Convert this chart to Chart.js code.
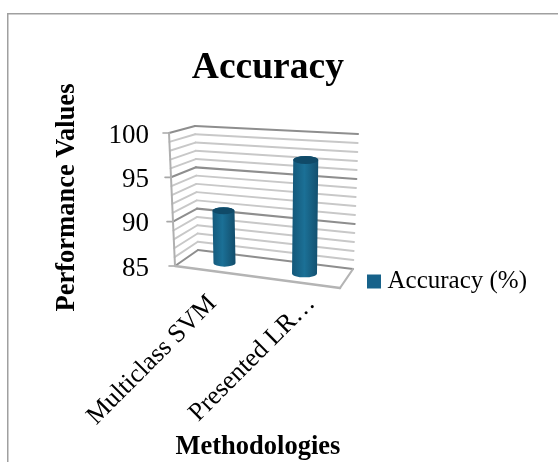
<!DOCTYPE html>
<html>
<head>
<meta charset="utf-8">
<style>html,body{margin:0;padding:0;background:#fff}#w{width:558px;height:462px}</style>
<script src="https://cdn.jsdelivr.net/npm/chart.js@4"></script>
</head>
<body>
<div id="w"><canvas id="c" width="558" height="462"></canvas></div>
<script>
const categories = ["Multiclass SVM", "Presented LR\u2026"];
const seriesName = "Accuracy (%)";
const accuracy = [91, 97.5];
const yMin = 85, yMax = 100, yMajorStep = 5, yMinorStep = 1;
const chartTitle = "Accuracy";
const xTitle = "Methodologies";
const yTitle = "Performance Values";

const serif = '"Liberation Serif","Times New Roman",serif';
const barColor = '#17628a';

// Perspective box the flat plot rectangle is projected on to
const box = {
  back:  {tl:[195,126], tr:[358,134], bl:[198,250], br:[353,269]},
  front: {tl:[169,133], tr:[342,146], bl:[175,266], br:[340,288]}
};
const lerp = (a,b,t)=>a+(b-a)*t;
function project(xf, yf, d){
  const f=(k)=>{
    const q=(c)=>lerp(lerp(c.tl[k],c.tr[k],xf),lerp(c.bl[k],c.br[k],xf),yf);
    return lerp(q(box.back),q(box.front),d);
  };
  return [f(0),f(1)];
}
function line(ctx,a,b,color,w){
  ctx.beginPath();ctx.moveTo(a[0],a[1]);ctx.lineTo(b[0],b[1]);
  ctx.strokeStyle=color;ctx.lineWidth=w;ctx.stroke();
}

const box3d = {
  id:'box3d',
  afterLayout(chart){
    const lg=chart.legend;
    lg.left=367; lg.right=558; lg.top=263; lg.bottom=320;
    chart.scales.x.left-=20;
    chart.scales.y.top-=9;
  },
  beforeDraw(chart){
    const ctx=chart.ctx;
    ctx.save();
    ctx.fillStyle='#fff';ctx.fillRect(0,0,chart.width,chart.height);
    ctx.fillStyle='#a0a0a0';
    ctx.fillRect(7,13,chart.width-7,1.5);
    ctx.fillRect(7,13,1.5,chart.height-13);
    ctx.restore();
  },
  beforeDatasetsDraw(chart){
    const ctx=chart.ctx, y=chart.scales.y, a=chart.chartArea;
    ctx.save();
    ctx.lineCap='round';
    const yf=v=>(y.getPixelForValue(v)-a.top)/a.height;
    for(let v=yMin;v<=yMax;v+=yMinorStep){
      const major=(v-yMin)%yMajorStep===0;
      const c=major?'#8e8e8e':'#c8c8c8', w=major?2.1:1.9, f=yf(v);
      const left=project(0,f,1), mid=project(0,f,0), right=project(1,f,0);
      line(ctx,left,mid,c,w);
      line(ctx,mid,right,c,w);
      if(major) line(ctx,[left[0]-6,left[1]],left,'#a8a8a8',1.6);
    }
    line(ctx,project(0,0,1),project(0,1,1),'#b0b0b0',2);
    const fl=project(0,1,1), fr=project(1,1,1), br=project(1,1,0);
    line(ctx,fl,fr,'#b4b4b4',2.4);
    line(ctx,fr,br,'#b4b4b4',2.2);
    ctx.restore();
  },
  beforeDatasetDraw(chart,args){
    const ctx=chart.ctx, a=chart.chartArea;
    const meta=chart.getDatasetMeta(args.index);
    const span=box.back.br[0]-box.back.bl[0];
    meta.data.forEach(el=>{
      const xf=(el.x-a.left)/a.width;
      const top=project(xf,(el.y-a.top)/a.height,0.5);
      const bot=project(xf,(el.base-a.top)/a.height,0.5);
      top[0]-=2; bot[0]-=2;
      const rx=el.width/2*(span/a.width)*(0.875+0.25*xf);
      const ry=rx*0.32;
      const g=ctx.createLinearGradient(top[0]-rx,0,top[0]+rx,0);
      g.addColorStop(0,'#155a7c');g.addColorStop(0.45,'#1b7096');g.addColorStop(1,'#134f6e');
      ctx.save();
      ctx.beginPath();
      ctx.moveTo(top[0]-rx,top[1]);
      ctx.lineTo(bot[0]-rx,bot[1]);
      ctx.ellipse(bot[0],bot[1],rx,ry,0,Math.PI,0,true);
      ctx.lineTo(top[0]+rx,top[1]);
      ctx.ellipse(top[0],top[1],rx,ry,0,0,Math.PI,true);
      ctx.closePath();
      ctx.fillStyle=g;ctx.fill();
      ctx.beginPath();
      ctx.ellipse(top[0],top[1],rx,ry,0,0,Math.PI*2);
      ctx.fillStyle='#104a68';ctx.fill();
      ctx.restore();
    });
    return false;
  }
};

new Chart(document.getElementById('c'),{
  type:'bar',
  plugins:[box3d],
  data:{labels:categories,datasets:[{
    label:seriesName,data:accuracy,base:yMin,backgroundColor:barColor,borderColor:barColor,borderWidth:12,barThickness:30
  }]},
  options:{
    responsive:false,animation:false,
    layout:{padding:{left:0,top:0,bottom:0,right:69}},
    plugins:{
      tooltip:{enabled:false},
      title:{display:true,text:chartTitle,fullSize:false,color:'#000',
        font:{family:serif,size:37.5,weight:'bold',lineHeight:1},padding:{top:50,bottom:48}},
      legend:{position:'right',align:'start',labels:{
        boxWidth:2,boxHeight:2,padding:6,color:'#000',font:{family:serif,size:25}}}
    },
    scales:{
      x:{
        grid:{display:false,drawTicks:false},border:{display:false},
        afterFit(s){s.height=326.5-133;},
        ticks:{color:'#000',autoSkip:false,minRotation:45,maxRotation:45,padding:20,labelOffset:-6,font:{family:serif,size:26}},
        title:{display:true,text:xTitle,color:'#000',padding:{top:0,bottom:2},font:{family:serif,size:26.5,weight:'bold',lineHeight:1}}
      },
      y:{
        min:yMin,max:yMax,
        grid:{display:false,drawTicks:false},border:{display:false},
        afterFit(s){s.width=169;},
        ticks:{stepSize:yMajorStep,color:'#000',padding:20,font:{family:serif,size:27}},
        title:{display:true,text:yTitle,color:'#000',padding:{top:54,bottom:0},font:{family:serif,size:26.5,weight:'bold',lineHeight:1}}
      }
    }
  }
});
</script>
</body>
</html>
